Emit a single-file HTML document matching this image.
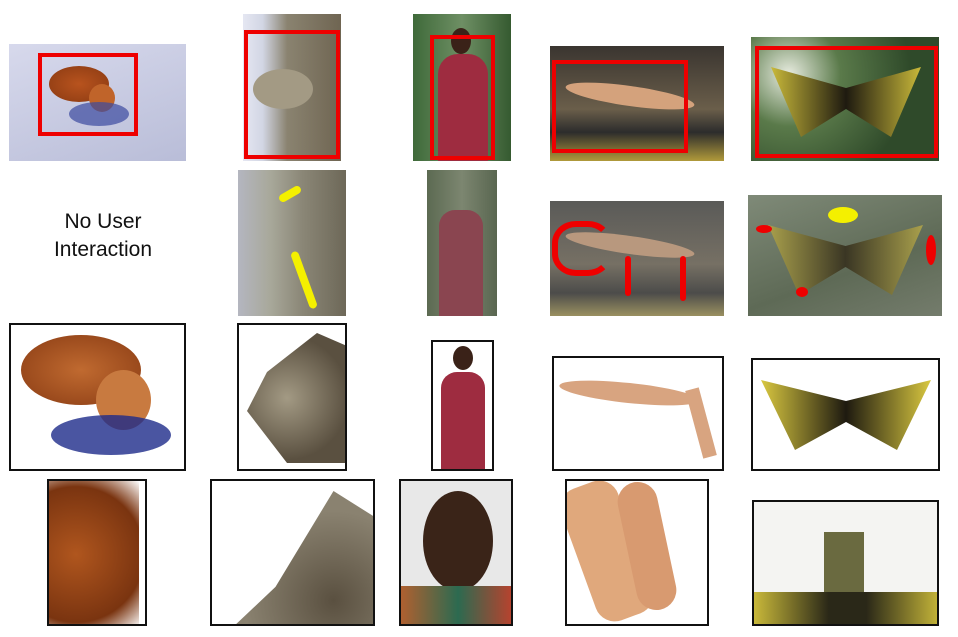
<!DOCTYPE html>
<html><head><meta charset="utf-8"><style>
html,body{margin:0;padding:0;background:#fff;width:958px;height:637px;overflow:hidden;position:relative;font-family:"Liberation Sans",sans-serif}
div{position:absolute;box-sizing:border-box}
.box{border:4px solid #e00}
.frm{border:2px solid #111;background:#fff;overflow:hidden}
.ph{overflow:hidden}
.blob{border-radius:50%}
</style></head><body>
<!-- Row 1 -->
<div class="ph" style="left:9px;top:44px;width:177px;height:117px;background:linear-gradient(160deg,#d7d9ec,#b9bdd8)">
  <div class="blob" style="left:40px;top:22px;width:60px;height:36px;background:radial-gradient(#b8531e,#8a3a12)"></div>
  <div class="blob" style="left:80px;top:40px;width:26px;height:28px;background:#c0642a"></div>
  <div class="blob" style="left:60px;top:58px;width:60px;height:24px;background:#3c4aa0;opacity:.7"></div>
</div>
<div class="box" style="left:38px;top:53px;width:100px;height:83px"></div>

<div class="ph" style="left:243px;top:14px;width:98px;height:147px;background:linear-gradient(90deg,#e5e7f2 0%,#d2d6e4 20%,#8a8370 45%,#6f6552 100%)">
  <div class="blob" style="left:10px;top:55px;width:60px;height:40px;background:#a39a84"></div>
</div>
<div class="box" style="left:244px;top:30px;width:96px;height:129px"></div>

<div class="ph" style="left:413px;top:14px;width:98px;height:147px;background:linear-gradient(90deg,#3f6a3a,#6e8f64 50%,#355a30)">
  <div style="left:25px;top:40px;width:50px;height:107px;background:#9e2c40;border-radius:20px 20px 0 0"></div>
  <div class="blob" style="left:38px;top:14px;width:20px;height:26px;background:#3a2218"></div>
</div>
<div class="box" style="left:430px;top:35px;width:65px;height:125px"></div>

<div class="ph" style="left:550px;top:46px;width:174px;height:115px;background:linear-gradient(180deg,#3a3530 0%,#6a5e4a 55%,#2c2c2c 75%,#b09a3a 100%)">
  <div class="blob" style="left:15px;top:40px;width:130px;height:20px;background:#d4a27c;transform:rotate(8deg)"></div>
</div>
<div class="box" style="left:552px;top:60px;width:136px;height:93px"></div>

<div class="ph" style="left:751px;top:37px;width:188px;height:124px;background:radial-gradient(circle at 20% 30%,#e8ece0 0,#5a7a4a 30%,#2f4a2a 70%)">
  <div style="left:20px;top:30px;width:150px;height:70px;background:linear-gradient(90deg,#c9b93a,#1e1a10 50%,#c9b93a);clip-path:polygon(0 0,50% 30%,100% 0,80% 100%,50% 60%,20% 100%)"></div>
</div>
<div class="box" style="left:755px;top:46px;width:183px;height:112px"></div>

<!-- Row 2 -->
<div style="left:20px;top:208px;width:166px;text-align:center;font-size:21px;line-height:28px;color:#111">No User<br>Interaction</div>
<div class="ph" style="left:238px;top:170px;width:108px;height:146px;background:linear-gradient(90deg,#b4b6c0 0%,#a8a89a 30%,#8a8676 60%,#6d6858 100%)">
  <div style="left:40px;top:20px;width:24px;height:8px;background:#f4f000;border-radius:4px;transform:rotate(-30deg)"></div>
  <div style="left:62px;top:80px;width:8px;height:60px;background:#f4f000;border-radius:4px;transform:rotate(-20deg)"></div>
</div>
<div class="ph" style="left:427px;top:170px;width:70px;height:146px;background:linear-gradient(90deg,#5c6a52,#7c8670 50%,#596650)">
  <div style="left:12px;top:40px;width:44px;height:106px;background:#8a4550;border-radius:16px 16px 0 0"></div>
</div>
<div class="ph" style="left:550px;top:201px;width:174px;height:115px;background:linear-gradient(180deg,#5a5a58 0%,#767064 55%,#4c4c4a 80%,#9a9060 100%)">
  <div class="blob" style="left:15px;top:35px;width:130px;height:18px;background:#b8987e;transform:rotate(8deg)"></div>
  <div style="left:2px;top:20px;width:60px;height:55px;border:6px solid #e00;border-radius:40%;border-right-color:transparent"></div>
  <div style="left:75px;top:55px;width:6px;height:40px;background:#e00;border-radius:3px"></div>
  <div style="left:130px;top:55px;width:6px;height:45px;background:#e00;border-radius:3px"></div>
</div>
<div class="ph" style="left:748px;top:195px;width:194px;height:121px;background:linear-gradient(160deg,#7f8a78,#5e6a56 60%,#747c6c)">
  <div style="left:20px;top:30px;width:155px;height:70px;background:linear-gradient(90deg,#a9a04c,#3a3624 50%,#a9a04c);clip-path:polygon(0 0,50% 30%,100% 0,80% 100%,50% 60%,20% 100%)"></div>
  <div class="blob" style="left:80px;top:12px;width:30px;height:16px;background:#f4f000"></div>
  <div class="blob" style="left:8px;top:30px;width:16px;height:8px;background:#e00"></div>
  <div class="blob" style="left:178px;top:40px;width:10px;height:30px;background:#e00"></div>
  <div class="blob" style="left:48px;top:92px;width:12px;height:10px;background:#e00"></div>
</div>

<!-- Row 3 -->
<div class="frm" style="left:9px;top:323px;width:177px;height:148px">
  <div class="blob" style="left:10px;top:10px;width:120px;height:70px;background:radial-gradient(#c06a30,#8a3c14)"></div>
  <div class="blob" style="left:85px;top:45px;width:55px;height:60px;background:#c87a40"></div>
  <div class="blob" style="left:40px;top:90px;width:120px;height:40px;background:#1d2a8a;opacity:.8"></div>
</div>
<div class="frm" style="left:237px;top:323px;width:110px;height:148px">
  <div style="left:8px;top:8px;width:100px;height:130px;background:radial-gradient(circle at 40% 50%,#a39a84,#5a5040 70%);clip-path:polygon(70% 0,100% 10%,100% 100%,40% 100%,0 60%,20% 30%)"></div>
</div>
<div class="frm" style="left:431px;top:340px;width:63px;height:131px">
  <div class="blob" style="left:20px;top:4px;width:20px;height:24px;background:#3a2218"></div>
  <div style="left:8px;top:30px;width:44px;height:98px;background:#9e2c40;border-radius:16px 16px 0 0"></div>
</div>
<div class="frm" style="left:552px;top:356px;width:172px;height:115px">
  <div class="blob" style="left:5px;top:25px;width:140px;height:20px;background:#d8a480;transform:rotate(6deg)"></div>
  <div style="left:140px;top:30px;width:14px;height:70px;background:#d8a480;transform:rotate(-15deg)"></div>
</div>
<div class="frm" style="left:751px;top:358px;width:189px;height:113px">
  <div style="left:8px;top:20px;width:170px;height:70px;background:linear-gradient(90deg,#d9c840,#1e1a10 50%,#d9c840);clip-path:polygon(0 0,50% 30%,100% 0,80% 100%,50% 60%,20% 100%)"></div>
</div>

<!-- Row 4 -->
<div class="frm" style="left:47px;top:479px;width:100px;height:147px;background:#fff">
  <div style="left:0;top:0;width:90px;height:147px;background:radial-gradient(circle at 30% 50%,#b0561e,#7a3410 70%,#fff 100%)"></div>
</div>
<div class="frm" style="left:210px;top:479px;width:165px;height:147px">
  <div style="left:20px;top:10px;width:145px;height:137px;background:radial-gradient(circle at 70% 80%,#5a5040,#8a8270 60%);clip-path:polygon(70% 0,100% 20%,100% 100%,0 100%,30% 70%)"></div>
</div>
<div class="frm" style="left:399px;top:479px;width:114px;height:147px;background:#e8e8e8">
  <div class="blob" style="left:22px;top:10px;width:70px;height:100px;background:#3a2418"></div>
  <div style="left:0;top:105px;width:114px;height:42px;background:linear-gradient(90deg,#b06030,#2c6a50,#c0402c)"></div>
</div>
<div class="frm" style="left:565px;top:479px;width:144px;height:147px">
  <div style="left:10px;top:0;width:60px;height:140px;background:#e0a87c;transform:rotate(-20deg);border-radius:20px"></div>
  <div style="left:60px;top:0;width:40px;height:130px;background:#d89a70;transform:rotate(-12deg);border-radius:20px"></div>
</div>
<div class="frm" style="left:752px;top:500px;width:187px;height:126px;background:#f4f4f2">
  <div style="left:70px;top:30px;width:40px;height:96px;background:#6a6a40"></div>
  <div style="left:0;top:90px;width:187px;height:36px;background:linear-gradient(90deg,#c9b93a,#2a2818 40%,#2a2818 60%,#c9b93a)"></div>
</div>
</body></html>
